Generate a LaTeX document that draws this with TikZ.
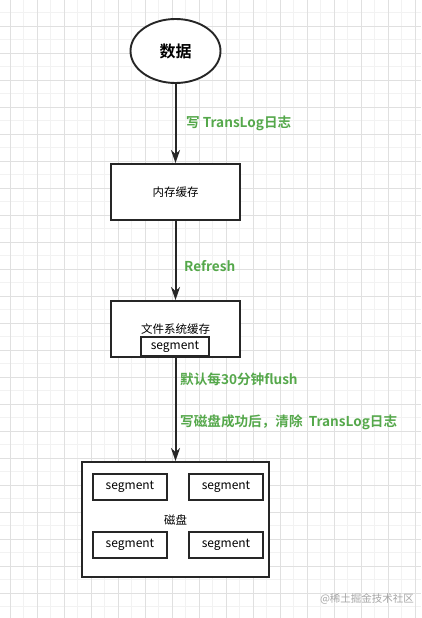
\documentclass[tikz,border=0pt]{standalone}
\usepackage{fontspec}
\setmainfont{Noto Sans CJK SC}[BoldFont={Noto Sans CJK SC Bold}]
\usetikzlibrary{positioning,arrows.meta,shapes.geometric}
\definecolor{grn}{HTML}{55A84B}
\definecolor{ink}{HTML}{262626}
\tikzset{
  box/.style={draw=ink,line width=1.9pt,fill=white,inner sep=0pt,font=\fontsize{11.5}{13}\selectfont},
  segbox/.style={draw=ink,line width=1.7pt,fill=white,minimum width=74pt,minimum height=26pt,inner sep=0pt,font=\fontsize{12}{13}\selectfont},
  flow/.style={-{Stealth[length=13pt,width=9pt,inset=4pt]},ink,line width=2pt},
  lbl/.style={grn,font=\bfseries\fontsize{13.6}{15}\selectfont,anchor=west,inner sep=0pt},
}

\begin{document}
\begin{tikzpicture}[x=1pt,y=-1pt]
  \useasboundingbox (0,0) rectangle (421,618);
  \fill[white] (0,0) rectangle (421,618);
  % background grid
  \foreach \x in {0,...,15}{\draw[black!5,line width=0.6pt] (\x*27+23.5,0) -- (\x*27+23.5,618);}
  \foreach \y in {0,...,23}{\draw[black!5,line width=0.6pt] (0,\y*27+12.5) -- (421,\y*27+12.5);}
  \foreach \x in {0,...,15}{\draw[black!12,line width=0.7pt] (\x*27+10,0) -- (\x*27+10,618);}
  \foreach \y in {0,...,23}{\draw[black!12,line width=0.7pt] (0,\y*27-1) -- (421,\y*27-1);}

  \node[ellipse,draw=ink,line width=1.9pt,fill=white,minimum width=90pt,minimum height=64pt,inner sep=0pt,
        font=\bfseries\fontsize{16}{18}\selectfont] (data) at (175.5,51) {数据};
  \node[box,minimum width=129pt,minimum height=56pt] (mem) at (175.5,192) {内存缓存};
  \node[box,minimum width=129pt,minimum height=56pt] (fs) at (175.5,329) {文件系统缓存};
  \node[segbox,minimum width=68pt,minimum height=19pt,line width=1.5pt] (fsseg) at (175,346.5) {segment};
  \node[box,minimum width=187pt,minimum height=115pt] (disk) at (175.5,519.5) {磁盘};
  \node[segbox] (seg1) at (130,487) {segment};
  \node[segbox] (seg2) at (226,487) {segment};
  \node[segbox] (seg3) at (130,545) {segment};
  \node[segbox] (seg4) at (226,545) {segment};

  \draw[flow] (data) -- (mem);
  \draw[flow] (mem) -- (fs);
  \draw[flow] (fs) -- (disk);

  \node[lbl] (l1) at (186,123) {写 TransLog日志};
  \node[lbl] (l2) at (184,266) {Refresh};
  \node[lbl] (l3) at (180,379) {默认每30分钟flush};
  \node[lbl] (l4) at (180,422) {写磁盘成功后，清除\ \ TransLog日志};

  \node[black!35,font=\fontsize{10.5}{12}\selectfont] (mark) at (367,599) {@稀土掘金技术社区};
\end{tikzpicture}
\end{document}
